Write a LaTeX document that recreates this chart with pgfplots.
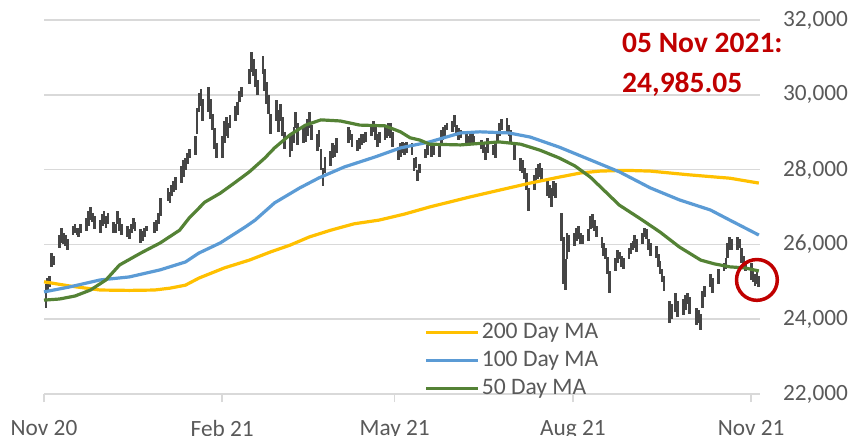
\documentclass[border=0pt]{standalone}
\usepackage{fontspec}
\setmainfont{Carlito}
\usepackage{pgfplots}
\pgfplotsset{compat=1.18}
\usepackage{pgfplotstable}
\definecolor{maA}{HTML}{FFC000}
\definecolor{maB}{HTML}{5B9BD5}
\definecolor{maC}{HTML}{548235}
\definecolor{barc}{HTML}{454545}
\definecolor{txt}{HTML}{595959}
\definecolor{grd}{HTML}{D9D9D9}
\definecolor{ann}{HTML}{C00000}

\pgfplotstableread{
d lo hi
1 24300 24950
2 24750 25100
3 24850 25150
4 25400 25780
5 25450 25700
8 25900 26250
9 26050 26450
10 26000 26300
11 25950 26250
12 25850 26150
15 26250 26500
16 26300 26550
17 26250 26450
18 26200 26450
19 26300 26550
22 26350 26700
23 26500 26900
24 26650 27000
25 26600 26850
26 26400 26750
29 26300 26650
30 26500 26800
31 26550 26900
32 26450 26750
33 26550 26850
36 26300 26600
37 26300 26550
38 26550 26900
39 26350 26700
40 26250 26550
43 26200 26500
44 26150 26400
45 26300 26550
46 26400 26700
47 26350 26600
50 26050 26400
51 26100 26350
52 26200 26450
53 26350 26500
57 26300 26600
58 26350 26650
59 26550 26850
60 26750 27250
64 27150 27500
65 27100 27400
66 27300 27600
67 27400 27700
68 27450 27800
71 27650 28100
72 27800 28250
73 28000 28300
74 28150 28450
75 28300 28550
78 28400 28900
79 28950 29650
80 29550 30050
81 29700 30150
82 29300 29900
85 29550 30200
86 29350 29900
87 29050 29500
88 28550 29100
89 28300 28700
92 28300 28900
93 28700 29300
94 28900 29400
95 28850 29250
96 29100 29450
99 29300 29700
100 29450 29800
101 29800 30100
102 29950 30200
106 30300 30700
107 30600 31150
108 30500 30950
109 30200 30700
110 30000 30400
113 30550 31050
114 30100 30700
115 29750 30350
116 29500 30000
117 28950 29500
120 29300 29850
121 29000 29600
122 29300 29750
123 28900 29400
124 28550 29000
127 28350 28900
128 28500 28950
129 28700 29150
130 29100 29550
131 28650 29250
134 28700 29100
135 28750 29150
136 28900 29350
137 29100 29550
138 28800 29200
141 28500 28950
142 28600 29050
143 28000 28550
144 27550 28050
145 27900 28350
148 28100 28500
149 28300 28700
150 28350 28650
151 28450 28850
157 28700 29150
158 28800 29050
159 28600 28950
162 28500 28800
163 28550 28850
164 28650 28950
165 28700 28950
166 28750 29000
169 28900 29200
170 29000 29300
171 28800 29150
172 28600 28950
173 28700 29000
176 28800 29150
177 28850 29200
178 28900 29250
179 28850 29250
180 28600 29000
183 28250 28600
184 28350 28700
185 28450 28750
186 28400 28700
187 28450 28750
190 28400 28700
191 27950 28300
192 28050 28350
193 27700 28000
194 27900 28150
197 28300 28550
198 28400 28650
200 28350 28650
201 28400 28700
204 28350 28650
205 28650 29050
206 28800 29150
207 28850 29200
208 29050 29250
211 29000 29300
212 29150 29450
213 28900 29200
214 28800 29100
215 28850 29050
218 28700 28950
219 28650 28900
220 28650 28950
221 28700 28950
222 28700 28900
226 28550 28800
227 28450 28750
228 28250 28600
229 28450 28850
232 28400 28650
233 28300 28700
234 28700 28950
235 28900 29250
236 29050 29350
239 29000 29380
240 28900 29200
241 28700 29050
243 28250 28650
246 27950 28300
247 27900 28250
248 27750 28050
249 27450 27900
250 26900 27500
253 27450 27850
254 27650 28050
255 27750 28150
256 27800 28180
257 27700 28050
260 27300 27700
261 27250 27600
262 27000 27500
263 27300 27700
264 27250 27650
267 26100 26850
268 24950 26200
269 24780 25600
270 25600 26300
271 25800 26250
274 25950 26300
275 26100 26450
276 26150 26500
277 26000 26300
278 26000 26250
281 26100 26400
282 26400 26750
283 26450 26800
284 26350 26650
285 26200 26500
288 25900 26200
289 25700 26050
290 25600 25900
291 25200 25650
292 24700 25300
295 25300 25650
296 25500 25850
297 25600 25800
298 25400 25700
299 25350 25650
302 25600 25900
303 25750 26050
304 25850 26100
305 25900 26250
306 25800 26150
309 26000 26300
310 26200 26450
311 26150 26400
312 25850 26150
313 25700 26050
316 25650 25950
317 25400 25750
318 25200 25550
319 25000 25350
320 24750 25150
323 23900 24500
324 24000 24400
326 24200 24700
327 24050 24500
330 24100 24550
331 24250 24650
332 24400 24700
333 24150 24600
337 23850 24300
338 23900 24250
339 23700 24150
340 24300 24750
341 24600 24900
344 24850 25200
345 24700 25100
348 24950 25350
351 25300 25500
352 25350 25650
353 25650 26050
354 25850 26200
355 25850 26150
358 25850 26200
359 25900 26150
360 25500 25900
361 25350 25700
362 25300 25500
365 25050 25500
366 25000 25350
367 24900 25200
368 24950 25300
369 24850 25150
}\price

\pgfplotstableread{
d v
0 25000
13 24890
29 24780
44 24770
57 24780
65 24830
73 24910
80 25100
93 25370
106 25580
117 25800
127 25980
137 26200
148 26380
160 26550
173 26650
186 26810
199 27000
220 27270
235 27450
251 27640
266 27800
277 27910
287 27960
300 27980
313 27960
333 27860
354 27770
369 27640
}\maTwo

\pgfplotstableread{
d v
0 24730
13 24860
29 25050
44 25130
60 25320
73 25530
80 25770
91 26040
104 26470
109 26650
119 27110
132 27510
142 27780
155 28070
171 28340
184 28580
199 28740
215 28980
225 29010
240 28980
251 28870
266 28600
282 28260
297 27940
313 27510
328 27190
344 26920
354 26650
369 26250
}\maOne

\pgfplotstableread{
d v
0 24510
8 24540
16 24620
24 24780
32 25050
39 25450
50 25770
60 26040
70 26380
75 26710
83 27130
91 27370
99 27670
106 27940
114 28310
119 28580
127 28930
135 29190
143 29330
153 29300
163 29190
176 29170
184 29010
189 28850
194 28790
199 28680
215 28660
235 28740
246 28680
256 28520
266 28310
274 28100
282 27800
290 27400
297 27050
308 26680
318 26330
328 25930
339 25580
346 25480
354 25400
362 25370
369 25290
}\maFifty

\begin{document}
\begin{tikzpicture}
\path[use as bounding box] (-22pt,-20.5pt) rectangle (408pt,197pt);
\begin{axis}[
  at={(0,0)}, anchor=south west,
  scale only axis, width=358pt, height=187pt,
  xmin=0, xmax=369.6, ymin=22000, ymax=32000,
  clip=false,
  axis x line*=bottom, axis y line*=right,
  x axis line style={draw=grd, line width=0.75pt, -},
  y axis line style={draw=none},
  ytick={22000,24000,...,32000},
  scaled y ticks=false,
  ymajorgrids, grid style={draw=grd, line width=0.75pt},
  ytick style={draw=none},
  xtick={0,92,181,273,365},
  xticklabels={Nov 20, Feb 21, May 21, Aug 21, Nov 21},
  xtick align=outside, major tick length=4pt,
  xtick style={draw=grd, line width=0.75pt},
  ticklabel style={font=\fontsize{11.65}{14}\selectfont, text=txt},
  yticklabel style={anchor=west, xshift=8pt},
  xticklabel style={yshift=-5.5pt},
  /pgf/number format/fixed,
  /pgf/number format/1000 sep={,},
  /pgf/number format/assume math mode=true,
  legend style={draw=none, fill=none, at={(0.531,0.089)}, anchor=west,
    font=\fontsize{11.8}{14}\selectfont, text=txt, inner sep=0pt,
    nodes={inner sep=1pt, text height=8.5pt, text depth=2.5pt}, row sep=1pt},
  legend cell align=left,
  legend image code/.code={\draw[#1] (0pt,0pt) -- (26pt,0pt);},
]
\addplot[draw=none, mark=none, forget plot,
  error bars/.cd, y dir=both, y explicit, error mark=none,
  error bar style={draw=barc, line width=1.4pt}]
  table[x=d, y expr={(\thisrow{lo}+\thisrow{hi})/2}, y error expr={(\thisrow{hi}-\thisrow{lo})/2}] {\price};
\addplot[maA, line width=1.6pt] table[x=d, y=v] {\maTwo};
\addlegendentry{200 Day MA}
\addplot[maB, line width=1.6pt] table[x=d, y=v] {\maOne};
\addlegendentry{100 Day MA}
\addplot[maC, line width=1.6pt] table[x=d, y=v] {\maFifty};
\addlegendentry{50 Day MA}
\addplot[ann, only marks, mark=o, mark size=10.2pt, mark options={line width=1.75pt}, forget plot] coordinates {(368,25050)};
\node[anchor=base west, inner sep=0pt, font=\bfseries\fontsize{14.75}{17}\selectfont, text=ann] at (rel axis cs:0.807,0.9118) {05 Nov 2021:};
\node[anchor=base west, inner sep=0pt, font=\bfseries\fontsize{14.75}{17}\selectfont, text=ann] at (rel axis cs:0.807,0.8075) {24,985.05};
\end{axis}
\end{tikzpicture}
\end{document}
